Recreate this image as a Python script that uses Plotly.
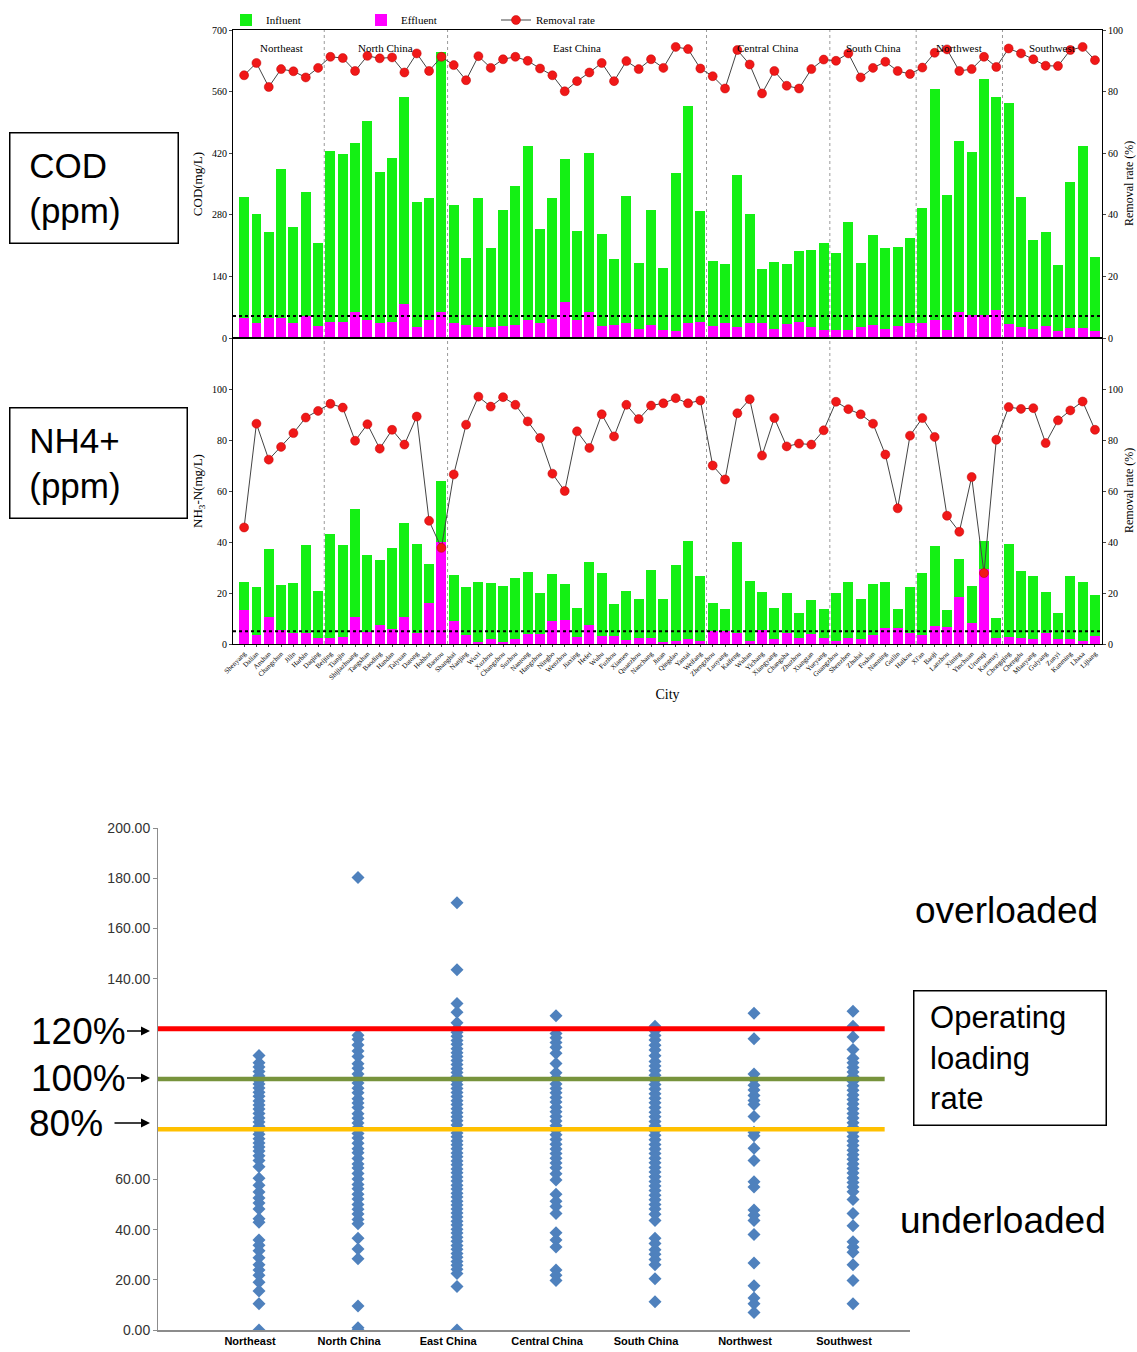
import plotly.graph_objects as go

# ---------------- data: top chart (70 cities) ----------------
regions = ["Northeast", "North China", "East China", "Central China", "South China", "Northwest", "Southwest"]
region_sizes = [7, 10, 21, 10, 7, 7, 8]

cities = [
    "Shenyang", "Dalian", "Anshan", "Changchun", "Jilin", "Harbin", "Daqing",
    "Beijing", "Tianjin", "Shijiazhuang", "Tangshan", "Baoding", "Handan", "Taiyuan", "Datong", "Hohhot", "Baotou",
    "Shanghai", "Nanjing", "Wuxi", "Xuzhou", "Changzhou", "Suzhou", "Nantong", "Hangzhou", "Ningbo", "Wenzhou",
    "Jiaxing", "Hefei", "Wuhu", "Fuzhou", "Xiamen", "Quanzhou", "Nanchang", "Jinan", "Qingdao", "Yantai", "Weifang",
    "Zhengzhou", "Luoyang", "Kaifeng", "Wuhan", "Yichang", "Xiangyang", "Changsha", "Zhuzhou", "Xiangtan", "Yueyang",
    "Guangzhou", "Shenzhen", "Zhuhai", "Foshan", "Nanning", "Guilin", "Haikou",
    "Xi'an", "Baoji", "Lanzhou", "Xining", "Yinchuan", "Urumqi", "Karamay",
    "Chongqing", "Chengdu", "Mianyang", "Guiyang", "Zunyi", "Kunming", "Lhasa", "Lijiang",
]

cod_influent = [
    321, 282, 241, 383, 253, 331, 215,
    426, 419, 444, 494, 378, 408, 548, 310, 318, 651,
    303, 181, 318, 205, 292, 346, 436, 248, 318, 406, 244, 420, 237, 180, 322, 171, 292, 158, 374, 527, 289,
    175, 169, 370, 281, 156, 173, 168, 198, 200, 216,
    194, 264, 171, 234, 205, 207, 228,
    296, 566, 325, 448, 422, 588, 547,
    535, 321, 222, 241, 165, 355, 437, 184,
]
cod_effluent = [
    45, 33, 45, 45, 33, 49, 27,
    36, 36, 59, 40, 34, 36, 77, 24, 40, 58,
    33, 29, 25, 25, 27, 29, 42, 33, 44, 82, 40, 58, 27, 29, 33, 21, 29, 19, 17, 33, 36,
    27, 33, 25, 33, 33, 21, 31, 36, 25, 19,
    19, 19, 25, 29, 21, 27, 33,
    34, 40, 19, 59, 52, 52, 64,
    31, 25, 21, 27, 17, 23, 23, 17,
]
cod_removal = [
    85.3, 89.3, 81.5, 87.3, 86.6, 84.6, 87.7,
    91.3, 90.9, 86.7, 91.6, 90.8, 91.1, 86.2, 92.4, 86.7, 91.3,
    88.6, 83.7, 91.5, 87.7, 90.5, 91.3, 90.0, 87.5, 85.3, 80.1, 83.4, 86.2, 89.3, 83.4, 89.9, 87.3, 90.5, 87.7, 94.5, 93.8, 87.5,
    85.0, 81.0, 93.5, 88.8, 79.4, 86.7, 81.9, 81.0, 87.3, 90.4,
    90.0, 92.4, 84.6, 87.7, 89.7, 86.7, 85.7,
    87.8, 92.6, 93.7, 86.7, 87.3, 91.3, 88.0,
    94.0, 92.4, 90.5, 88.4, 88.3, 93.5, 94.5, 90.2,
]
nh_influent = [
    24.3, 22.3, 37.3, 23.2, 23.9, 39.0, 20.6,
    43.1, 39.0, 52.9, 35.0, 33.1, 37.7, 47.3, 39.2, 31.2, 63.9,
    26.9, 22.3, 24.3, 23.9, 22.7, 26.0, 28.2, 20.1, 27.3, 23.6, 14.3, 32.3, 27.8, 15.5, 20.8, 17.8, 29.1, 17.8, 31.0, 40.3, 26.6,
    16.2, 13.9, 40.1, 24.9, 20.4, 14.3, 20.1, 12.2, 17.1, 13.6,
    20.1, 24.5, 17.8, 23.4, 24.5, 13.9, 22.3,
    27.8, 38.3, 13.5, 33.4, 22.7, 40.5, 10.3,
    39.2, 28.8, 26.6, 20.4, 12.3, 26.5, 24.3, 19.1,
]
nh_effluent = [
    13.2, 3.5, 10.4, 5.5, 4.4, 4.4, 2.2,
    2.2, 2.9, 10.4, 4.8, 7.4, 5.8, 10.4, 4.2, 16.2, 39.9,
    9.0, 3.5, 0.9, 1.9, 0.9, 1.9, 3.9, 3.9, 9.1, 9.4, 2.6, 7.4, 3.2, 3.2, 1.6, 2.2, 2.2, 0.9, 1.2, 1.9, 1.2,
    5.1, 5.1, 4.2, 1.2, 5.5, 1.9, 4.2, 2.2, 3.8, 2.2,
    1.2, 2.2, 1.9, 3.5, 6.1, 6.4, 4.2,
    3.5, 7.1, 6.5, 18.4, 8.1, 29.5, 2.2,
    2.9, 2.2, 1.9, 4.2, 1.9, 1.9, 1.2, 3.2,
]
nh_removal = [
    45.7, 86.4, 72.3, 77.3, 82.7, 88.8, 91.4,
    94.2, 92.7, 79.7, 86.2, 76.6, 84.0, 78.2, 89.2, 48.3, 37.7,
    66.5, 86.0, 97.0, 93.1, 96.8, 93.8, 87.3, 80.8, 66.8, 60.0, 83.4, 76.9, 90.1, 81.4, 93.8, 88.2, 93.5, 94.4, 96.4, 94.4, 95.5,
    70.0, 64.5, 90.5, 96.0, 73.9, 88.6, 77.5, 78.6, 78.2, 83.8,
    95.0, 92.1, 90.1, 86.4, 74.3, 53.2, 81.7,
    88.6, 81.2, 50.3, 44.0, 65.5, 27.8, 80.1,
    92.9, 92.2, 92.5, 78.8, 87.7, 91.6, 95.1, 84.0,
]
cod_standard = 50
nh_standard = 5

# ---------------- data: loading-rate scatter ----------------
load_northeast = [109.4, 106.5, 104.8, 103.0, 101.2, 99.5, 98.0, 96.4, 94.7, 93.1, 91.2, 89.6, 88.0, 86.3, 84.5,
                  82.9, 81.2, 79.6, 78.0, 76.2, 74.5, 72.9, 71.3, 69.4, 67.5, 65.0, 60.5, 57.7, 55.0, 52.6, 50.6,
                  48.2, 44.3, 42.9, 35.9, 33.8, 31.6, 28.8, 26.0, 23.9, 21.8, 19.0, 15.5, 10.5, 0.0]
load_north = [180.3, 117.4, 115.8, 113.5, 111.2, 109.0, 106.1, 104.3, 102.0, 100.2, 98.4, 96.3, 94.5, 92.1, 90.4,
              88.6, 86.2, 84.4, 82.5, 80.7, 78.3, 76.5, 74.4, 72.2, 70.6, 68.3, 66.1, 64.5, 62.4, 60.2, 58.0, 56.3,
              54.1, 52.2, 50.0, 48.1, 46.2, 44.0, 42.3, 36.6, 32.3, 28.4, 9.6, 0.9, 0.0]
load_east = [170.2, 143.5, 130.1, 126.6, 122.4, 120.0, 118.6, 117.0, 115.3, 113.8, 112.1, 110.5, 109.0, 107.4,
             105.8, 104.1, 102.6, 101.0, 99.3, 97.8, 96.2, 94.6, 93.0, 91.3, 89.8, 88.1, 86.6, 85.0, 83.4, 81.7,
             80.2, 78.5, 77.0, 75.3, 73.8, 72.2, 70.5, 69.0, 67.3, 65.8, 64.1, 62.6, 61.0, 59.4, 57.7, 56.2, 54.5,
             53.0, 51.3, 49.8, 48.2, 46.6, 45.0, 43.3, 41.8, 40.1, 38.6, 37.0, 35.4, 33.7, 32.2, 30.5, 29.0, 27.3,
             25.8, 24.2, 22.5, 17.3, 0.0]
load_central = [125.2, 118.1, 116.4, 114.5, 112.6, 110.3, 106.2, 102.5, 100.4, 98.0, 96.2, 94.5, 92.6, 90.8, 88.7,
                87.0, 85.1, 83.3, 81.4, 79.6, 77.8, 75.9, 74.0, 72.1, 70.3, 68.4, 66.5, 64.6, 62.3, 59.8, 54.1, 51.3,
                49.2, 46.4, 38.7, 35.9, 33.1, 23.9, 21.8, 19.7]
load_south = [121.0, 119.2, 117.3, 115.5, 113.4, 111.6, 109.3, 107.0, 105.2, 103.4, 101.5, 99.6, 97.8, 96.0, 94.1,
              92.3, 90.5, 88.6, 86.8, 85.0, 83.1, 81.3, 79.4, 77.6, 75.8, 73.9, 72.1, 70.3, 68.4, 66.6, 64.7, 62.9,
              61.1, 59.2, 57.4, 55.6, 53.7, 51.9, 50.0, 48.2, 46.1, 43.6, 36.6, 34.5, 32.0, 30.2, 28.1, 26.0, 20.4, 11.3]
load_northwest = [126.2, 116.0, 102.0, 99.9, 97.5, 95.6, 93.4, 91.4, 89.8, 85.1, 78.8, 77.4, 72.4, 67.5, 59.1, 57.0,
                  47.8, 45.7, 43.6, 38.0, 26.7, 17.6, 12.7, 10.5, 7.0]
load_southwest = [127.0, 121.0, 116.7, 111.8, 108.3, 106.5, 104.6, 102.8, 101.0, 99.1, 97.3, 95.5, 93.6, 91.8, 90.0,
                  88.1, 86.3, 84.5, 82.6, 80.8, 79.0, 77.1, 75.3, 73.5, 71.6, 69.8, 68.0, 66.1, 64.3, 62.5, 60.6,
                  58.8, 57.0, 55.1, 52.0, 46.4, 41.5, 35.2, 33.0, 31.0, 26.0, 19.7, 10.5]
load_groups = [load_northeast, load_north, load_east, load_central, load_south, load_northwest, load_southwest]
load_thresholds = [120, 100, 80]
load_threshold_labels = ["120%", "100%", "80%"]
load_yticks = [0, 20, 40, 60, 140, 160, 180, 200]

# ---------------- styling ----------------
W, H = 1137, 1352
GREEN = "#14F014"
MAG = "#FF00FF"
RED = "#F01818"
BLUE = "#4F81BD"
SERIF = "Liberation Serif"
SANS = "Liberation Sans"


def px_x(p):
    return p / W


def px_y(p):
    return 1 - p / H


x_idx = list(range(len(cities)))

fig = go.Figure()

# COD panel
fig.add_trace(go.Bar(x=x_idx, y=cod_influent, xaxis="x", yaxis="y", name="Influent",
                     marker=dict(color=GREEN, line=dict(width=0)), width=0.8))
fig.add_trace(go.Bar(x=x_idx, y=cod_effluent, xaxis="x", yaxis="y", name="Effluent",
                     marker=dict(color=MAG, line=dict(width=0)), width=0.8))
fig.add_trace(go.Scatter(x=x_idx, y=cod_removal, xaxis="x", yaxis="y2", name="Removal rate",
                         mode="lines+markers", line=dict(color="#444444", width=1),
                         marker=dict(color=RED, size=9, line=dict(color="#C00000", width=0.5))))
# NH3-N panel
fig.add_trace(go.Bar(x=x_idx, y=nh_influent, xaxis="x2", yaxis="y3", showlegend=False,
                     marker=dict(color=GREEN, line=dict(width=0)), width=0.8))
fig.add_trace(go.Bar(x=x_idx, y=nh_effluent, xaxis="x2", yaxis="y3", showlegend=False,
                     marker=dict(color=MAG, line=dict(width=0)), width=0.8))
fig.add_trace(go.Scatter(x=x_idx, y=nh_removal, xaxis="x2", yaxis="y4", showlegend=False,
                         mode="lines+markers", line=dict(color="#444444", width=1),
                         marker=dict(color=RED, size=9, line=dict(color="#C00000", width=0.5))))

# Scatter of loading rates
for i, vals in enumerate(load_groups):
    fig.add_trace(go.Scatter(x=[i + 1] * len(vals), y=vals, xaxis="x3", yaxis="y5", mode="markers",
                             showlegend=False,
                             marker=dict(symbol="diamond", size=10, color=BLUE, line=dict(width=0))))

top_xdom = [px_x(233), px_x(1102)]
xr = [-0.9, 69.57]
cod_dom = [px_y(338), px_y(30)]
nh_dom = [px_y(644), px_y(338)]
tickfont_top = dict(family=SERIF, size=10, color="black")
title_top = dict(family=SERIF, size=13, color="black")

shapes = []
annotations = []

# region dividers
bounds = []
acc = 0
for s in region_sizes[:-1]:
    acc += s
    bounds.append(acc - 0.5)
for b in bounds:
    shapes.append(dict(type="line", xref="x", yref="paper", x0=b, x1=b, y0=nh_dom[0], y1=cod_dom[1],
                       line=dict(color="#9A9A9A", width=1, dash="dot"), layer="below"))

# region labels
acc = 0
for name, s in zip(regions, region_sizes):
    center = acc + (s - 1) / 2
    acc += s
    annotations.append(dict(text=name, x=center, xref="x", y=px_y(40), yref="paper", xanchor="center",
                            showarrow=False, font=dict(family=SERIF, size=11, color="black")))

# right-hand axis titles
for yc in [(30 + 338) / 2, (338 + 644) / 2]:
    annotations.append(dict(text="Removal rate (%)", x=px_x(1129), y=px_y(yc), xref="paper", yref="paper",
                            xanchor="center", yanchor="middle", textangle=-90, showarrow=False,
                            font=dict(family=SERIF, size=12, color="black")))

# discharge standard lines
shapes.append(dict(type="line", xref="x domain", x0=0, x1=1, yref="y", y0=cod_standard, y1=cod_standard,
                   line=dict(color="black", width=2, dash="dot")))
shapes.append(dict(type="line", xref="x2 domain", x0=0, x1=1, yref="y3", y0=nh_standard, y1=nh_standard,
                   line=dict(color="black", width=2, dash="dot")))

# loading threshold lines
thr_colors = ["#FF0000", "#77933C", "#FFC000"]
thr_widths = [5, 4.5, 4.5]
for v, c, w in zip(load_thresholds, thr_colors, thr_widths):
    shapes.append(dict(type="line", xref="x3", yref="y5", x0=-0.02, x1=7.32, y0=v, y1=v,
                       line=dict(color=c, width=w)))

# threshold labels with arrows (text sits at the arrow tail)
thr_label_y = [1031, 1078, 1123]
thr_label_ax = [-72, -72, -84]
thr_label_gap = [0, 0, 10]
for lab, yy, axo, gap in zip(load_threshold_labels, thr_label_y, thr_label_ax, thr_label_gap):
    annotations.append(dict(text=lab, x=px_x(150), y=px_y(yy), xref="paper", yref="paper",
                            showarrow=True, ax=axo, ay=0, arrowhead=2, arrowsize=1.2, arrowwidth=1.5,
                            arrowcolor="black", startstandoff=gap,
                            font=dict(family=SANS, size=37, color="black")))

# big text boxes
annotations.append(dict(text="&nbsp;COD<br>&nbsp;(ppm)", x=px_x(93.5), y=px_y(188), xref="paper", yref="paper",
                        xanchor="center", yanchor="middle", showarrow=False, align="left",
                        width=149, height=91, borderpad=9, bordercolor="black", borderwidth=1.5,
                        bgcolor="white", font=dict(family=SANS, size=35, color="black")))
annotations.append(dict(text="&nbsp;NH4+<br>&nbsp;(ppm)", x=px_x(98), y=px_y(463.5), xref="paper", yref="paper",
                        xanchor="center", yanchor="middle", showarrow=False, align="left",
                        width=158, height=91, borderpad=9, bordercolor="black", borderwidth=1.5,
                        bgcolor="white", font=dict(family=SANS, size=35, color="black")))
annotations.append(dict(text="&nbsp;Operating<br>&nbsp;loading<br>&nbsp;rate", x=px_x(1010), y=px_y(1057.5),
                        xref="paper", yref="paper", xanchor="center", yanchor="middle", showarrow=False,
                        align="left", width=177, height=119, borderpad=7, bordercolor="black", borderwidth=1.5,
                        bgcolor="white", font=dict(family=SANS, size=31, color="black")))
annotations.append(dict(text="overloaded", x=px_x(1006), y=px_y(910), xref="paper", yref="paper",
                        xanchor="center", yanchor="middle",
                        showarrow=False, font=dict(family=SANS, size=37, color="black")))
annotations.append(dict(text="underloaded", x=px_x(1003), y=px_y(1220), xref="paper", yref="paper",
                        xanchor="center", yanchor="middle",
                        showarrow=False, font=dict(family=SANS, size=37, color="black")))

fig.update_layout(
    width=W, height=H, margin=dict(l=0, r=0, t=0, b=0, pad=0, autoexpand=False),
    paper_bgcolor="white", plot_bgcolor="white",
    barmode="overlay", bargap=0,
    showlegend=True,
    legend=dict(orientation="h", x=px_x(226), y=px_y(20), xanchor="left", yanchor="middle",
                entrywidth=90, entrywidthmode="pixels", bgcolor="rgba(0,0,0,0)",
                font=dict(family=SERIF, size=11, color="black")),
    xaxis=dict(domain=top_xdom, anchor="y", range=xr, showticklabels=False, ticks="", automargin=False,
               showline=True, linecolor="black", linewidth=1, mirror=True, showgrid=False, zeroline=False),
    yaxis=dict(domain=cod_dom, anchor="x", range=[0, 700], tickvals=[0, 140, 280, 420, 560, 700],
               ticks="outside", ticklen=3, showline=True, linecolor="black", linewidth=1, automargin=False,
               showgrid=False, zeroline=False, tickfont=tickfont_top,
               title=dict(text="COD(mg/L)", font=title_top, standoff=6)),
    yaxis2=dict(overlaying="y", anchor="x", side="right", range=[0, 100], tickvals=[0, 20, 40, 60, 80, 100],
                ticks="outside", ticklen=3, showline=True, linecolor="black", showgrid=False, zeroline=False,
                automargin=False, tickfont=tickfont_top),
    xaxis2=dict(domain=top_xdom, anchor="y3", range=xr, tickvals=x_idx, ticktext=cities, tickangle=-45,
                ticks="outside", ticklen=2, tickfont=dict(family=SERIF, size=7, color="black"), automargin=False,
                showline=True, linecolor="black", linewidth=1, mirror=True, showgrid=False, zeroline=False,
                title=dict(text="City", font=dict(family=SERIF, size=14, color="black"), standoff=8)),
    yaxis3=dict(domain=nh_dom, anchor="x2", range=[0, 120], tickvals=[0, 20, 40, 60, 80, 100],
                ticks="outside", ticklen=3, showline=True, linecolor="black", linewidth=1, automargin=False,
                showgrid=False, zeroline=False, tickfont=tickfont_top,
                title=dict(text="NH<sub>3</sub>-N(mg/L)", font=title_top, standoff=6)),
    yaxis4=dict(overlaying="y3", anchor="x2", side="right", range=[0, 120], tickvals=[0, 20, 40, 60, 80, 100],
                ticks="outside", ticklen=3, showline=True, linecolor="black", showgrid=False, zeroline=False,
                automargin=False, tickfont=tickfont_top),
    xaxis3=dict(domain=[px_x(158), px_x(910)], anchor="y5", range=[-0.02, 7.576], automargin=False,
                tickvals=[i + 1 - 0.09 for i in range(7)], ticktext=["<b>%s</b>" % r for r in regions],
                ticks="", showline=True, linecolor="#8C8C8C", linewidth=1.5, showgrid=False, zeroline=False,
                tickfont=dict(family=SANS, size=11, color="black")),
    yaxis5=dict(domain=[px_y(1330), px_y(828)], anchor="x3", range=[0, 200], tickvals=load_yticks,
                ticktext=["%.2f" % v for v in load_yticks], ticks="outside", ticklen=4, tickcolor="#8C8C8C",
                showline=True, linecolor="#8C8C8C", linewidth=1, showgrid=False, zeroline=False, automargin=False,
                tickfont=dict(family=SANS, size=14, color="#333333")),
    shapes=shapes,
    annotations=annotations,
)

fig.write_html("out.html", config={"displayModeBar": False},
               post_script="document.body.style.margin='0px';document.body.style.overflow='hidden';")
